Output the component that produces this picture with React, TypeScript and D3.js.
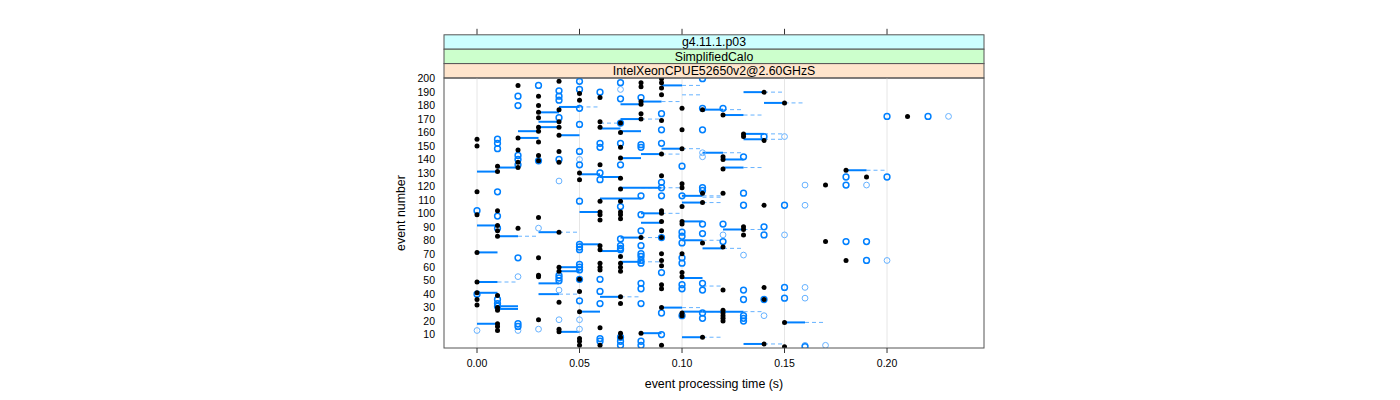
import React from "react";
import * as d3 from "d3";

// tick labels / titles
const xTicks = [0, 0.05, 0.1, 0.15, 0.2];
const yTicks = [10, 20, 30, 40, 50, 60, 70, 80, 90, 100, 110, 120, 130, 140, 150, 160, 170, 180, 190, 200];
const stripLabels = ["g4.11.1.p03", "SimplifiedCalo", "IntelXeonCPUE52650v2@2.60GHzS"];
const stripColors = ["#ccffff", "#ccffcc", "#ffe5cc"];

// black dots: [time, events]
const blackDots: [number, number[]][] = [
  [0.0, [155, 150, 116, 99, 71, 49, 41, 36, 32]],
  [0.01, [135, 131, 102, 91, 87, 83, 39, 30, 28, 18, 16, 13]],
  [0.02, [195, 156, 147, 138, 134, 89]],
  [0.03, [187, 180, 175, 171, 164, 161, 153, 143, 139, 97, 67, 54, 53, 21]],
  [0.04, [198, 177, 168, 164, 158, 146, 138, 86, 60, 57, 34, 14, 12]],
  [0.05, [189, 184, 130, 125, 51, 42, 27, 7, 5, 2]],
  [0.06, [186, 168, 164, 136, 109, 101, 99, 95, 76, 73, 63, 60, 58, 15, 2]],
  [0.07, [167, 160, 149, 141, 126, 118, 109, 101, 99, 96, 68, 63, 60, 57, 38, 33, 11, 8]],
  [0.08, [197, 194, 183, 181, 174, 170, 82, 11]],
  [0.09, [200, 197, 193, 188, 169, 144, 128, 102, 100, 94, 87, 82, 70, 65, 61, 47, 44, 30, 2]],
  [0.1, [178, 162, 148, 122, 119, 105, 94, 92, 70, 56, 53, 26, 24]],
  [0.11, [177, 115, 108, 78, 8]],
  [0.12, [173, 142, 140, 133, 115, 75, 43, 28, 26, 24, 22, 20]],
  [0.13, [159, 157, 90, 88, 84]],
  [0.14, [190, 154, 106, 45, 36, 3]],
  [0.15, [182, 19, 1]],
  [0.17, [121, 79]],
  [0.18, [132, 65]],
  [0.19, [127]],
  [0.21, [172]],
];

// dark blue open circles: [time, events]
const darkRings: [number, number[]][] = [
  [0.0, [102, 40]],
  [0.01, [155, 152, 148, 116, 98, 89, 36, 33, 31]],
  [0.02, [187, 180, 143, 140, 136, 67, 18, 16]],
  [0.03, [195, 139]],
  [0.04, [191, 187, 184, 171, 140, 54, 52, 50]],
  [0.05, [198, 192, 178, 166, 146, 136, 109, 77, 75, 73, 62, 60, 58, 51, 35]],
  [0.06, [190, 152, 149, 130, 125, 51, 42, 33, 7, 5]],
  [0.07, [197, 185, 167, 152, 136, 105, 81, 76, 74, 73, 8, 5, 2]],
  [0.08, [186, 151, 149, 113, 99, 87, 76, 70, 68, 65, 63, 48, 44, 33, 5, 2]],
  [0.09, [174, 162, 152, 123, 119, 113, 82, 56, 26, 10]],
  [0.1, [135, 113, 86, 83, 78, 67, 63, 47, 44, 24]],
  [0.11, [200, 178, 162, 119, 117, 92, 85, 48, 43, 26, 22]],
  [0.12, [178, 92, 79]],
  [0.13, [142, 115, 106, 43, 36, 24, 22, 20]],
  [0.14, [157, 90, 84, 36]],
  [0.15, [106, 45, 37]],
  [0.16, [1]],
  [0.18, [127, 121, 79]],
  [0.19, [79, 65]],
  [0.2, [172, 127]],
  [0.22, [172]],
];

// light blue open circles: [time, events]
const lightRings: [number, number[]][] = [
  [0.0, [13]],
  [0.02, [53, 13]],
  [0.03, [89, 14]],
  [0.04, [124, 43, 21]],
  [0.05, [140, 21, 14]],
  [0.07, [192]],
  [0.11, [145, 142]],
  [0.12, [84]],
  [0.13, [69]],
  [0.14, [24]],
  [0.15, [157, 84]],
  [0.16, [121, 106, 45, 37, 2]],
  [0.17, [2]],
  [0.19, [121]],
  [0.2, [65]],
  [0.23, [172]],
];

// segments: [event, start, solid end, dashed end]
const segments: [number, number, number, number][] = [
  [131, 0.0, 0.01, 0.01], [134, 0.01, 0.02, 0.02], [161, 0.02, 0.03, 0.03], [156, 0.02, 0.03, 0.03],
  [175, 0.03, 0.04, 0.04], [168, 0.03, 0.04, 0.04], [164, 0.03, 0.04, 0.04], [179, 0.04, 0.05, 0.06],
  [158, 0.04, 0.05, 0.05], [129, 0.05, 0.06, 0.06], [101, 0.05, 0.06, 0.06], [167, 0.06, 0.06, 0.07],
  [163, 0.06, 0.07, 0.07], [127, 0.06, 0.07, 0.07], [111, 0.06, 0.07, 0.07], [181, 0.07, 0.08, 0.08],
  [170, 0.07, 0.08, 0.09], [161, 0.07, 0.08, 0.08], [141, 0.07, 0.08, 0.08], [119, 0.07, 0.08, 0.09],
  [111, 0.07, 0.08, 0.08], [183, 0.08, 0.09, 0.1], [144, 0.08, 0.09, 0.1], [119, 0.08, 0.09, 0.1],
  [195, 0.09, 0.1, 0.11], [148, 0.09, 0.1, 0.11], [188, 0.1, 0.1, 0.11], [113, 0.1, 0.11, 0.12],
  [108, 0.1, 0.11, 0.12], [190, 0.13, 0.14, 0.15], [182, 0.14, 0.15, 0.16], [177, 0.11, 0.12, 0.13],
  [173, 0.12, 0.13, 0.14], [159, 0.13, 0.14, 0.15], [155, 0.13, 0.14, 0.15], [145, 0.11, 0.12, 0.13],
  [140, 0.12, 0.13, 0.13], [134, 0.12, 0.13, 0.14], [132, 0.18, 0.19, 0.2], [112, 0.11, 0.11, 0.12],
  [91, 0.0, 0.01, 0.01], [71, 0.0, 0.01, 0.01], [49, 0.0, 0.01, 0.02], [41, 0.0, 0.01, 0.01],
  [18, 0.0, 0.01, 0.01], [83, 0.01, 0.02, 0.03], [31, 0.01, 0.02, 0.02], [29, 0.01, 0.02, 0.02],
  [86, 0.03, 0.04, 0.05], [48, 0.03, 0.04, 0.04], [40, 0.03, 0.04, 0.05], [60, 0.04, 0.05, 0.05],
  [57, 0.04, 0.05, 0.05], [12, 0.04, 0.05, 0.05], [77, 0.05, 0.06, 0.06], [27, 0.05, 0.06, 0.06],
  [72, 0.06, 0.07, 0.07], [38, 0.06, 0.07, 0.08], [64, 0.07, 0.08, 0.09], [82, 0.07, 0.08, 0.09],
  [100, 0.08, 0.09, 0.1], [93, 0.08, 0.09, 0.09], [11, 0.08, 0.09, 0.09], [30, 0.09, 0.1, 0.11],
  [94, 0.1, 0.11, 0.11], [80, 0.1, 0.11, 0.12], [52, 0.1, 0.11, 0.11], [27, 0.1, 0.11, 0.12],
  [8, 0.1, 0.11, 0.12], [88, 0.12, 0.13, 0.14], [74, 0.11, 0.12, 0.13], [27, 0.11, 0.13, 0.14],
  [19, 0.15, 0.16, 0.17], [3, 0.13, 0.14, 0.15], [46, 0.11, 0.11, 0.12],
];

const flat = (arr: [number, number[]][]) =>
  arr.flatMap(([t, evs]) => evs.map((e) => ({ t, e })));

export default function App() {
  const W = 1400, H = 400;
  const L = 444, R = 984, T = 78, B = 348;
  const x = d3.scaleLinear().domain([-0.0161, 0.2473]).range([L, R]);
  const y = d3.scaleLinear().domain([0, 200.5]).range([B, T]);
  const fmt = d3.format(".2f");
  const font = "'Liberation Sans', Arial, Helvetica, sans-serif";
  const stripH = 14.4;
  const dark = "#0080ff";
  const light = "#66b2ff";

  return (
    <svg width={W} height={H} style={{ position: "absolute", left: 0, top: 0 }} fontFamily={font}>
      <rect x={0} y={0} width={W} height={H} fill="#fff" />
      {/* top ticks */}
      {xTicks.map((t) => (
        <line key={"tt" + t} x1={x(t)} x2={x(t)} y1={T - 3 * stripH - 6} y2={T - 3 * stripH} stroke="#333" strokeWidth={1} />
      ))}
      {/* strips */}
      {stripLabels.map((s, i) => {
        const y0 = T - (3 - i) * stripH;
        return (
          <g key={s}>
            <rect x={L} y={y0} width={R - L} height={stripH} fill={stripColors[i]} stroke="#555" strokeWidth={1} />
            <text x={(L + R) / 2} y={y0 + stripH / 2 + 4.4} textAnchor="middle" fontSize={12.3} fill="#000">{s}</text>
          </g>
        );
      })}
      {/* grid */}
      {xTicks.map((t) => (
        <line key={"g" + t} x1={x(t)} x2={x(t)} y1={T} y2={B} stroke="#e6e6e6" strokeWidth={1} />
      ))}
      <clipPath id="clip"><rect x={L} y={T} width={R - L} height={B - T} /></clipPath>
      <g clipPath="url(#clip)">
        {segments.map(([e, a, b, c], i) => (
          <g key={"s" + i}>
            {c > b && (
              <line x1={x(b)} x2={x(c)} y1={y(e)} y2={y(e)} stroke={light} strokeWidth={1} strokeDasharray="4,3" />
            )}
            {b > a && (
              <line x1={x(a)} x2={x(b)} y1={y(e)} y2={y(e)} stroke={dark} strokeWidth={2} />
            )}
          </g>
        ))}
        {flat(lightRings).map((p, i) => (
          <circle key={"l" + i} cx={x(p.t)} cy={y(p.e)} r={2.9} fill="none" stroke={light} strokeWidth={1} />
        ))}
        {flat(darkRings).map((p, i) => (
          <circle key={"d" + i} cx={x(p.t)} cy={y(p.e)} r={2.9} fill="none" stroke={dark} strokeWidth={1.5} />
        ))}
        {flat(blackDots).map((p, i) => (
          <circle key={"b" + i} cx={x(p.t)} cy={y(p.e)} r={2.5} fill="#000" />
        ))}
      </g>
      <rect x={L} y={T} width={R - L} height={B - T} fill="none" stroke="#555" strokeWidth={1} />
      {/* bottom axis */}
      {xTicks.map((t) => (
        <g key={"bt" + t}>
          <line x1={x(t)} x2={x(t)} y1={B} y2={B + 5} stroke="#333" strokeWidth={1} />
          <text x={x(t)} y={B + 19} textAnchor="middle" fontSize={10.5} fill="#000">{fmt(t)}</text>
        </g>
      ))}
      {/* left axis labels */}
      {yTicks.map((v) => (
        <text key={"yl" + v} x={L - 9} y={y(v) + 3.8} textAnchor="end" fontSize={10.5} fill="#000">{v}</text>
      ))}
      <text x={(L + R) / 2} y={388} textAnchor="middle" fontSize={12.4} fill="#000">event processing time (s)</text>
      <text transform={`translate(405,${(T + B) / 2}) rotate(-90)`} textAnchor="middle" fontSize={12.4} fill="#000">event number</text>
    </svg>
  );
}
